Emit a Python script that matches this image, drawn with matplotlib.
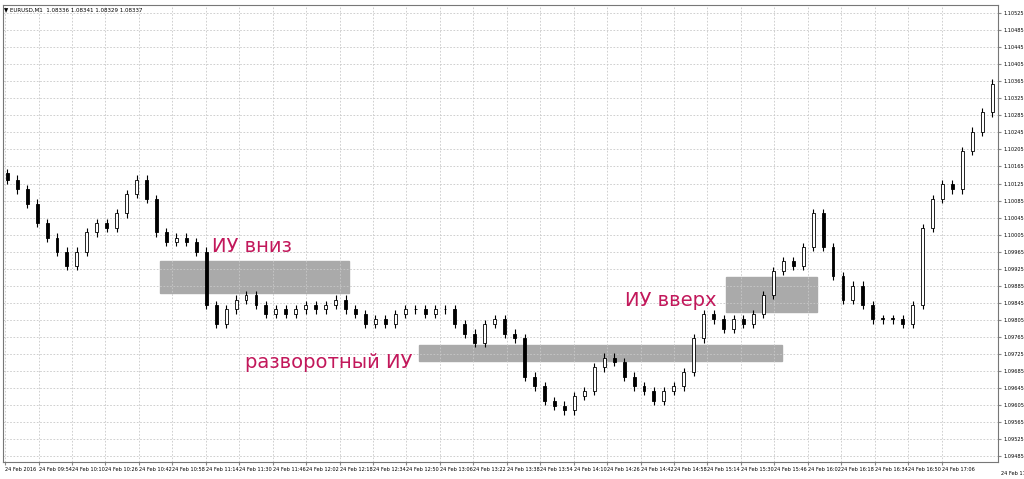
import matplotlib
matplotlib.use("Agg")
import matplotlib.pyplot as plt
import numpy as np
from matplotlib.patches import Rectangle

closes = [1.10134,1.10111,1.10078,1.10032,1.09998,1.09965,1.09931,1.09965,1.10010,1.10032,
          1.10021,1.10055,1.10100,1.10134,1.10089,1.10010,1.09987,1.09998,1.09987,1.09965,
          1.09840,1.09795,1.09829,1.09852,1.09863,1.09840,1.09818,1.09829,1.09818,1.09829,
          1.09840,1.09829,1.09840,1.09852,1.09829,1.09818,1.09795,1.09806,1.09795,1.09818,
          1.09829,1.09829,1.09818,1.09829,1.09829,1.09795,1.09772,1.09750,1.09795,1.09806,
          1.09772,1.09761,1.09671,1.09648,1.09614,1.09603,1.09592,1.09626,1.09637,1.09693,
          1.09716,1.09705,1.09671,1.09648,1.09637,1.09614,1.09637,1.09648,1.09682,1.09761,
          1.09818,1.09806,1.09784,1.09806,1.09795,1.09818,1.09863,1.09919,1.09942,1.09931,
          1.09976,1.10055,1.09976,1.09908,1.09852,1.09885,1.09840,1.09806,1.09806,1.09806,
          1.09795,1.09840,1.10021,1.10089,1.10123,1.10111,1.10201,1.10247,1.10292,1.10360]
first_open = 1.10150
bar_minutes = 4.76
yticks = [1.09485 + 0.0004*i for i in range(27)]
xtick_labels = ["24 Feb 2016","24 Feb 09:54","24 Feb 10:10","24 Feb 10:26","24 Feb 10:42","24 Feb 10:58",
                "24 Feb 11:14","24 Feb 11:30","24 Feb 11:46","24 Feb 12:02","24 Feb 12:18","24 Feb 12:34",
                "24 Feb 12:50","24 Feb 13:06","24 Feb 13:22","24 Feb 13:38","24 Feb 13:54","24 Feb 14:10",
                "24 Feb 14:26","24 Feb 14:42","24 Feb 14:58","24 Feb 15:14","24 Feb 15:30","24 Feb 15:46",
                "24 Feb 16:02","24 Feb 16:18","24 Feb 16:34","24 Feb 16:50","24 Feb 17:06"]
boxes = [(74.2, 164.7, 1.09867, 1.09944), (198.0, 371.9, 1.09707, 1.09745), (344.7, 388.5, 1.09822, 1.09906)]
wick = 0.00010

fig = plt.figure(figsize=(10.24, 4.79), dpi=100)
ax = fig.add_axes([0.003, 0.035, 0.972, 0.955])
ax.set_xlim(-1, 475.2)
ax.set_ylim(1.09470, 1.10545)

for (x0, x1, y0, y1) in boxes:
    ax.add_patch(Rectangle((x0, y0), x1-x0, y1-y0, color="#aaaaaa", zorder=1))

opens = [first_open] + closes[:-1]
for i, (o, c) in enumerate(zip(opens, closes)):
    t = i*bar_minutes + 1
    ax.vlines(t, min(o, c)-wick, max(o, c)+wick, color="black", lw=0.8, zorder=3)
    ax.add_patch(Rectangle((t-0.7, min(o, c)), 1.4, max(abs(c-o), 0.00002),
                           facecolor="white" if c > o else "black", edgecolor="black", lw=0.6, zorder=4))

ax.set_yticks(yticks)
ax.set_yticklabels([f"{v:.5f}" for v in yticks], fontsize=3.6)
ax.yaxis.tick_right()
ax.set_xticks([16*i for i in range(len(xtick_labels))])
ax.set_xticklabels(xtick_labels, fontsize=3.6, ha="left")
ax.tick_params(length=2, color="#888888", pad=1.5)
ax.grid(True, ls=(0, (2, 2)), color="#c8c8c8", lw=0.6)
for s in ax.spines.values():
    s.set_color("#777777")

fig.text(0.004, 0.985, "▼ EURUSD,M1  1.08336 1.08341 1.08329 1.08337", fontsize=4, va="top")
red = "#c2185b"
fig.text(212/1024, 1-247/479, "ИУ вниз", fontsize=14, color=red, va="center")
fig.text(245/1024, 1-362/479, "разворотный ИУ", fontsize=14, color=red, va="center")
fig.text(625/1024, 1-300/479, "ИУ вверх", fontsize=14, color=red, va="center")
fig.text(0.9775, 0.008, "24 Feb 17:22", fontsize=3.6)
fig.savefig("out.png", dpi=100)
